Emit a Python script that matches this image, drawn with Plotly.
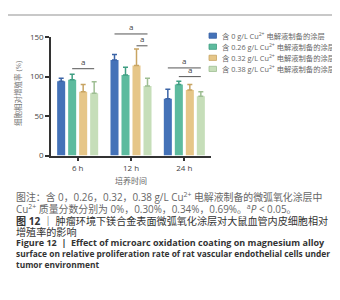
import plotly.graph_objects as go

# ---------------- data ----------------
categories = ["6 h", "12 h", "24 h"]
series_names = [
    "含 0 g/L Cu<sup>2+</sup> 电解液制备的涂层",
    "含 0.26 g/L Cu<sup>2+</sup> 电解液制备的涂层",
    "含 0.32 g/L Cu<sup>2+</sup> 电解液制备的涂层",
    "含 0.38 g/L Cu<sup>2+</sup> 电解液制备的涂层",
]
cu0_vals = [94, 121, 72]
cu026_vals = [96, 102, 90]
cu032_vals = [81, 114, 83]
cu038_vals = [79, 88, 75]
cu0_err = [4, 7, 12]
cu026_err = [7, 10, 4]
cu032_err = [9, 21, 7]
cu038_err = [14.5, 10, 6]
y_ticks = [0, 50, 100, 150]

# significance brackets: category index, from bar, to bar, height
sig_cat = [0, 1, 1, 2, 2]
sig_from = [1, 0, 2, 0, 1]
sig_to = [3, 3, 3, 3, 3]
sig_y = [110, 154, 139, 111, 100]
sig_text = ["a", "a", "a", "a", "a"]

# ---------------- style ----------------
W, H = 340, 300
bar_colors = ["#4472B8", "#5DBB9E", "#E6C688", "#C6DEB9"]
err_colors = ["#3A63A6", "#3F9E82", "#C8A462", "#9EBE93"]
FONT = "Open Sans, Noto Sans CJK SC, sans-serif"
CJK = "Noto Sans CJK SC, sans-serif"

X0, X1 = 43 / W, 203 / W
YB, YT = 1 - 147 / H, 1 - 24 / H
YMAX = 150
bargap = 0.175
slot = (1 - bargap) / 4

vals = [cu0_vals, cu026_vals, cu032_vals, cu038_vals]
errs = [cu0_err, cu026_err, cu032_err, cu038_err]

fig = go.Figure()
for i in range(4):
    fig.add_trace(go.Bar(
        x=categories, y=vals[i], name=series_names[i],
        marker=dict(color=bar_colors[i], line=dict(width=0)),
        error_y=dict(type="data", array=errs[i], arrayminus=[0] * 3,
                     symmetric=False, color=err_colors[i], thickness=1.5, width=2.5),
        showlegend=False,
    ))


def py(v):
    return YB + v / YMAX * (YT - YB)


shapes = []
annotations = []
# significance brackets
for c, a, b, v, t in zip(sig_cat, sig_from, sig_to, sig_y, sig_text):
    xa = c + (a - 1.5) * slot
    xb = c + (b - 1.5) * slot
    shapes.append(dict(type="line", xref="x", yref="paper", x0=xa, x1=xb,
                       y0=py(v), y1=py(v), line=dict(color="#555555", width=1)))
    annotations.append(dict(x=(xa + xb) / 2, xref="x", y=py(v), yref="paper",
                            text=t, showarrow=False, yanchor="bottom",
                            font=dict(family=FONT, size=8, color="#444444")))

# manual legend
leg_rows = [22.5, 34, 45.5, 57]
for i, yy in enumerate(leg_rows):
    shapes.append(dict(type="rect", xref="paper", yref="paper",
                       x0=201 / W, x1=208.5 / W, y0=1 - (yy + 2.7) / H, y1=1 - (yy - 2.7) / H,
                       fillcolor=bar_colors[i], line=dict(color=err_colors[i], width=0.8)))
    annotations.append(dict(x=212 / W, y=1 - yy / H, xref="paper", yref="paper",
                            text=series_names[i], showarrow=False, xanchor="left",
                            yanchor="middle", font=dict(family=FONT, size=7.3, color="#666666")))

# top border line
shapes.append(dict(type="line", xref="paper", yref="paper", x0=0, x1=332 / W,
                   y0=1 - 1 / H, y1=1 - 1 / H, line=dict(color="#C8C8C8", width=2)))

# x-axis title
annotations.append(dict(x=123 / W, y=1 - 173 / H, xref="paper", yref="paper",
                        text="培养时间", showarrow=False, yanchor="middle",
                        font=dict(family=CJK, size=8, color="#666666")))
# y-axis title
annotations.append(dict(x=10 / W, y=1 - 83 / H, xref="paper", yref="paper",
                        text="细胞相对增殖率 (%)", showarrow=False, textangle=-90,
                        xanchor="center", yanchor="middle",
                        font=dict(family=FONT, size=7.5, color="#777777")))

# caption
captions = [
    (190, "图注：含 0，0.26，0.32，0.38 g/L Cu<sup>2+</sup> 电解液制备的微弧氧化涂层中", 9.9, "#666666", FONT),
    (202.5, "Cu<sup>2+</sup> 质量分数分别为 0%，0.30%，0.34%，0.69%。<sup>a</sup><i>P</i> < 0.05。", 9.9, "#666666", FONT),
    (214.5, "<b>图 12</b> ｜ 肿瘤环境下镁合金表面微弧氧化涂层对大鼠血管内皮细胞相对", 10.1, "#333333", FONT),
    (226, "增殖率的影响", 10.1, "#333333", FONT),
    (237.5, "<b>Figure 12  |  Effect of microarc oxidation coating on magnesium alloy</b>", 9.0, "#333333", FONT),
    (249, "<b>surface on relative proliferation rate of rat vascular endothelial cells under</b>", 8.4, "#333333", FONT),
    (260.5, "<b>tumor environment</b>", 8.4, "#333333", FONT),
]
for yy, txt, sz, col, fam in captions:
    annotations.append(dict(x=6 / W, y=1 - yy / H, xref="paper", yref="paper",
                            text=txt, showarrow=False, xanchor="left", yanchor="middle",
                            font=dict(family=fam, size=sz, color=col)))

fig.update_layout(
    width=W, height=H,
    margin=dict(l=0, r=0, t=0, b=0),
    paper_bgcolor="white", plot_bgcolor="white",
    barmode="group", bargap=bargap, bargroupgap=0.27,
    shapes=shapes, annotations=annotations,
    font=dict(family=FONT),
    xaxis=dict(domain=[X0, X1], range=[-0.5, 2.5], showline=True, linecolor="#333333",
               linewidth=1.5, ticks="outside", ticklen=4, tickwidth=1.5, tickcolor="#333333",
               tickfont=dict(family=FONT, size=8, color="#444444"), showgrid=False,
               zeroline=False, fixedrange=True),
    yaxis=dict(domain=[YB, YT], range=[0, YMAX], tickvals=y_ticks, showline=True,
               linecolor="#333333", linewidth=1.5, ticks="outside", ticklen=4,
               tickwidth=1.5, tickcolor="#333333",
               tickfont=dict(family=FONT, size=8, color="#444444"), showgrid=False,
               zeroline=False, fixedrange=True),
)

fig.write_html("out.html")
